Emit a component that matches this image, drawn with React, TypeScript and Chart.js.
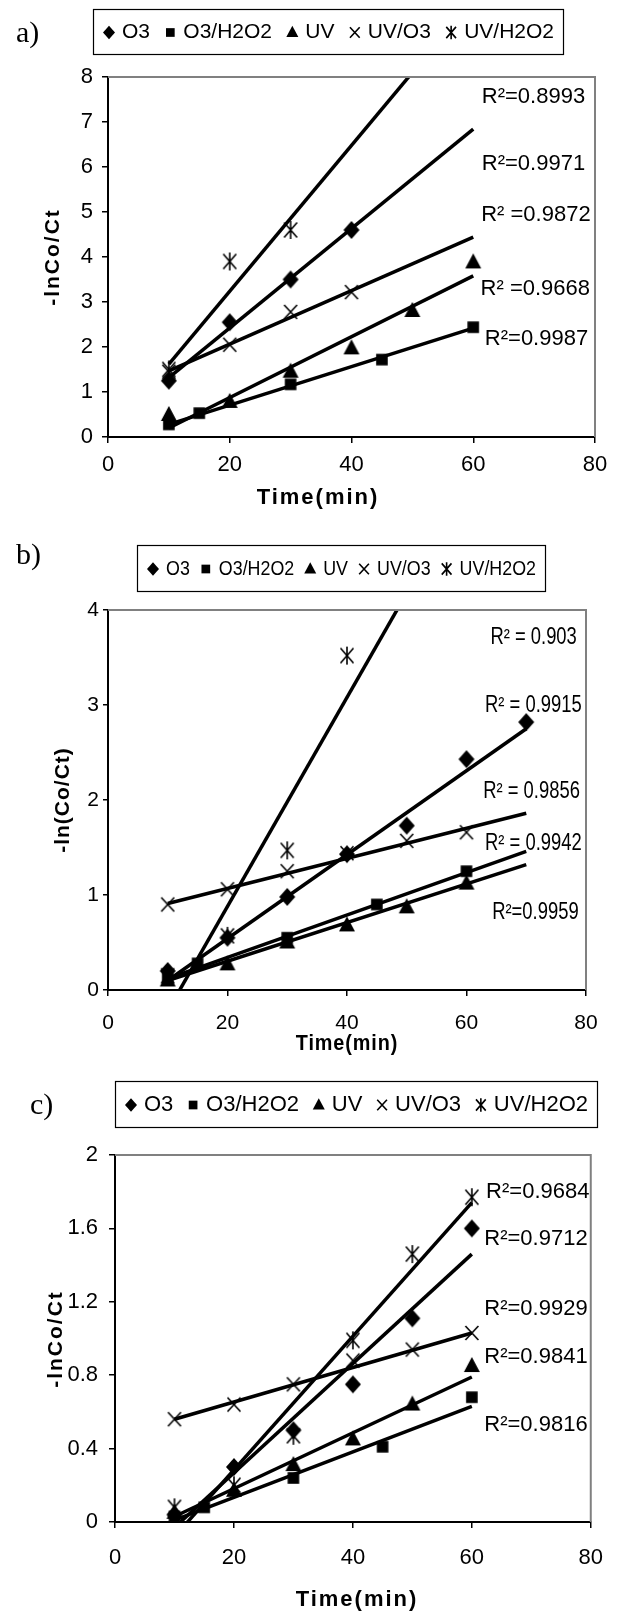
import React, { useEffect, useRef } from 'react';
import { Chart, registerables } from 'chart.js';

Chart.register(...registerables);

// ---------------- shared data ----------------
const seriesNames = ['O3', 'O3/H2O2', 'UV', 'UV/O3', 'UV/H2O2'];
const xTickValues = [0, 20, 40, 60, 80];
const xTitle = 'Time(min)';

// ---------------- panel a ----------------
const aYTicks = [0, 1, 2, 3, 4, 5, 6, 7, 8];
const aTimeO3 = [10, 20, 30, 40];
const aValO3 = [1.25, 2.55, 3.5, 4.6];
const aTimeO3H2O2 = [10, 15, 30, 45, 60];
const aValO3H2O2 = [0.28, 0.53, 1.17, 1.72, 2.44];
const aTimeUV = [10, 20, 30, 40, 50, 60];
const aValUV = [0.49, 0.78, 1.45, 1.97, 2.8, 3.88];
const aTimeUVO3 = [10, 20, 30, 40];
const aValUVO3 = [1.45, 2.05, 2.78, 3.22];
const aTimeUVH2O2 = [10, 20, 30];
const aValUVH2O2 = [1.5, 3.9, 4.6];
const aFitTime = [10, 60];
const aFitStart = [1.32, 0.28, 0.2, 1.47, 1.62];
const aFitEnd = [6.84, 2.42, 3.58, 4.44, 9.72];
const aR2Text = ['R²=0.8993', 'R²=0.9971', 'R² =0.9872', 'R² =0.9668', 'R²=0.9987'];
const aR2Time = [61.4, 61.4, 61.3, 61.2, 61.9];
const aR2Val = [7.55, 6.07, 4.94, 3.29, 2.19];

// ---------------- panel b ----------------
const bYTicks = [0, 1, 2, 3, 4];
const bTimeO3 = [10, 20, 30, 40, 50, 60, 70];
const bValO3 = [0.2, 0.55, 0.98, 1.43, 1.73, 2.43, 2.82];
const bTimeO3H2O2 = [10, 15, 30, 45, 60];
const bValO3H2O2 = [0.12, 0.28, 0.55, 0.9, 1.25];
const bTimeUV = [10, 20, 30, 40, 50, 60];
const bValUV = [0.1, 0.27, 0.5, 0.68, 0.87, 1.12];
const bTimeUVO3 = [10, 20, 30, 40, 50, 60];
const bValUVO3 = [0.9, 1.06, 1.25, 1.44, 1.57, 1.66];
const bTimeUVH2O2 = [10, 20, 30, 40];
const bValUVH2O2 = [0.15, 0.57, 1.47, 3.52];
const bFitTime = [10, 70];
const bFitStart = [0.1, 0.12, 0.1, 0.91, -0.22];
const bFitEnd = [2.75, 1.46, 1.32, 1.86, 6.38];
const bR2Text = ['R² = 0.903', 'R² = 0.9915', 'R² = 0.9856', 'R² = 0.9942', 'R²=0.9959'];
const bR2Time = [64.0, 63.1, 62.8, 63.1, 64.3];
const bR2Val = [3.71, 2.99, 2.09, 1.54, 0.81];

// ---------------- panel c ----------------
const cYTicks = [0, 0.4, 0.8, 1.2, 1.6, 2];
const cTimeO3 = [10, 20, 30, 40, 50, 60];
const cValO3 = [0.04, 0.3, 0.5, 0.75, 1.11, 1.6];
const cTimeO3H2O2 = [10, 15, 30, 45, 60];
const cValO3H2O2 = [0.03, 0.08, 0.24, 0.41, 0.68];
const cTimeUV = [10, 20, 30, 40, 50, 60];
const cValUV = [0.05, 0.17, 0.31, 0.45, 0.64, 0.85];
const cTimeUVO3 = [10, 20, 30, 40, 50, 60];
const cValUVO3 = [0.56, 0.64, 0.75, 0.88, 0.94, 1.03];
const cTimeUVH2O2 = [10, 20, 30, 40, 50, 60];
const cValUVH2O2 = [0.08, 0.2, 0.47, 0.99, 1.46, 1.77];
const cFitTime = [10, 60];
const cFitStart = [-0.03, 0.01, 0.03, 0.56, -0.08];
const cFitEnd = [1.46, 0.63, 0.79, 1.03, 1.74];
const cR2Text = ['R²=0.9684', 'R²=0.9712', 'R²=0.9929', 'R²=0.9841', 'R²=0.9816'];
const cR2Time = [62.4, 62.1, 62.1, 62.1, 62.1];
const cR2Val = [1.8, 1.54, 1.16, 0.9, 0.53];

// ---------------- layout / styles ----------------
const SANS = "'Liberation Sans', Arial, sans-serif";
const SERIF = "'Liberation Serif', 'Times New Roman', serif";

const layoutA = {
  top: 0, height: 520, plotLeft: 108, plotRight: 595, plotTop: 77, plotBottom: 437,
  legendBox: [93, 9, 470, 45], tagPos: [16, 42], tagSize: 30,
  yTitlePos: [53, 257], yTitleSize: 21, yTitleSpacing: 2,
  xTitlePos: [318, 498], xTitleSize: 22, xTitleSpacing: 2, xTitleScale: 1,
  tickSize: 22, r2Size: 22, r2Scale: 1, legendSize: 21, legendScale: 1,
  yTickLen: 6, yTickPad: 9, xTickPad: 9,
};
const layoutB = {
  top: 520, height: 540, plotLeft: 108, plotRight: 586, plotTop: 90, plotBottom: 470,
  legendBox: [137, 25, 408, 46], tagPos: [16, 44], tagSize: 30,
  yTitlePos: [63, 280], yTitleSize: 21, yTitleSpacing: 1,
  xTitlePos: [347, 524], xTitleSize: 22, xTitleSpacing: 1, xTitleScale: 0.9,
  tickSize: 21, r2Size: 23, r2Scale: 0.8, legendSize: 21, legendScale: 0.85,
  yTickLen: 5, yTickPad: 4, xTickPad: 15,
};
const layoutC = {
  top: 1060, height: 554, plotLeft: 115, plotRight: 598, plotTop: 95, plotBottom: 462,
  legendBox: [115, 21, 482, 46], tagPos: [30, 54], tagSize: 30,
  yTitlePos: [56, 279], yTitleSize: 21, yTitleSpacing: 2,
  xTitlePos: [357, 540], xTitleSize: 22, xTitleSpacing: 2, xTitleScale: 1,
  tickSize: 22, r2Size: 22, r2Scale: 1, legendSize: 22, legendScale: 1,
  yTickLen: 6, yTickPad: 11, xTickPad: 17,
};

const panels = [
  {
    tag: 'a)', yTitle: '-lnCo/Ct', yTicks: aYTicks, layout: layoutA,
    times: [aTimeO3, aTimeO3H2O2, aTimeUV, aTimeUVO3, aTimeUVH2O2],
    values: [aValO3, aValO3H2O2, aValUV, aValUVO3, aValUVH2O2],
    fitTime: aFitTime, fitStart: aFitStart, fitEnd: aFitEnd,
    r2Text: aR2Text, r2Time: aR2Time, r2Val: aR2Val,
  },
  {
    tag: 'b)', yTitle: '-ln(Co/Ct)', yTicks: bYTicks, layout: layoutB,
    times: [bTimeO3, bTimeO3H2O2, bTimeUV, bTimeUVO3, bTimeUVH2O2],
    values: [bValO3, bValO3H2O2, bValUV, bValUVO3, bValUVH2O2],
    fitTime: bFitTime, fitStart: bFitStart, fitEnd: bFitEnd,
    r2Text: bR2Text, r2Time: bR2Time, r2Val: bR2Val,
  },
  {
    tag: 'c)', yTitle: '-lnCo/Ct', yTicks: cYTicks, layout: layoutC,
    times: [cTimeO3, cTimeO3H2O2, cTimeUV, cTimeUVO3, cTimeUVH2O2],
    values: [cValO3, cValO3H2O2, cValUV, cValUVO3, cValUVH2O2],
    fitTime: cFitTime, fitStart: cFitStart, fitEnd: cFitEnd,
    r2Text: cR2Text, r2Time: cR2Time, r2Val: cR2Val,
  },
];

// ---------------- marker drawing ----------------
function drawMarker(ctx: CanvasRenderingContext2D, kind: number, x: number, y: number, k: number) {
  ctx.save();
  ctx.fillStyle = '#000';
  ctx.strokeStyle = '#000';
  ctx.lineWidth = 1.6;
  ctx.beginPath();
  if (kind === 0) {
    ctx.moveTo(x, y - 9 * k);
    ctx.lineTo(x + 8 * k, y);
    ctx.lineTo(x, y + 9 * k);
    ctx.lineTo(x - 8 * k, y);
    ctx.closePath();
    ctx.fill();
  } else if (kind === 1) {
    const h = 5.8 * k;
    ctx.rect(x - h, y - h, 2 * h, 2 * h);
    ctx.fill();
  } else if (kind === 2) {
    ctx.moveTo(x, y - 9 * k);
    ctx.lineTo(x + 8 * k, y + 6 * k);
    ctx.lineTo(x - 8 * k, y + 6 * k);
    ctx.closePath();
    ctx.fill();
  } else if (kind === 3) {
    const w = 6.5 * k;
    const h = 7 * k;
    ctx.moveTo(x - w, y - h);
    ctx.lineTo(x + w, y + h);
    ctx.moveTo(x + w, y - h);
    ctx.lineTo(x - w, y + h);
    ctx.stroke();
  } else {
    const w = 6.5 * k;
    const h = 7.5 * k;
    ctx.moveTo(x - w, y - h);
    ctx.lineTo(x + w, y + h);
    ctx.moveTo(x + w, y - h);
    ctx.lineTo(x - w, y + h);
    ctx.moveTo(x, y - 9 * k);
    ctx.lineTo(x, y + 9 * k);
    ctx.stroke();
  }
  ctx.restore();
}

function markerCanvas(kind: number) {
  const c = document.createElement('canvas');
  c.width = 24;
  c.height = 24;
  const ctx = c.getContext('2d') as CanvasRenderingContext2D;
  drawMarker(ctx, kind, 12, 12, 1);
  return c;
}

function scaledText(ctx: CanvasRenderingContext2D, text: string, x: number, y: number, hs: number) {
  if (hs === 1) {
    ctx.fillText(text, x, y);
    return;
  }
  ctx.save();
  ctx.translate(x, y);
  ctx.scale(hs, 1);
  ctx.fillText(text, 0, 0);
  ctx.restore();
}

function PanelChart({ panel }: { panel: any }) {
  const ref = useRef<HTMLCanvasElement | null>(null);
  const L = panel.layout;

  useEffect(() => {
    const canvas = ref.current;
    if (!canvas) return;
    const markers = [0, 1, 2, 3, 4].map((k) => markerCanvas(k));
    const datasets: any[] = [];
    panel.fitStart.forEach((s: number, i: number) => {
      datasets.push({
        label: seriesNames[i] + ' trend',
        data: [
          { x: panel.fitTime[0], y: s },
          { x: panel.fitTime[1], y: panel.fitEnd[i] },
        ],
        showLine: true,
        pointRadius: 0,
        borderColor: '#000',
        backgroundColor: '#000',
        borderWidth: 3.5,
        order: 2,
      });
    });
    panel.times.forEach((t: number[], i: number) => {
      datasets.push({
        label: seriesNames[i],
        data: t.map((x, j) => ({ x, y: panel.values[i][j] })),
        showLine: false,
        pointStyle: markers[i],
        pointRadius: 7,
        borderColor: '#000',
        backgroundColor: '#000',
        order: 1,
      });
    });

    const overlay = {
      id: 'overlay',
      afterDraw(chart: any) {
        const ctx: CanvasRenderingContext2D = chart.ctx;
        const area = chart.chartArea;
        const xs = chart.scales.x;
        const ys = chart.scales.y;
        ctx.save();
        // grey frame (top & right)
        ctx.strokeStyle = '#808080';
        ctx.lineWidth = 2;
        ctx.beginPath();
        ctx.moveTo(area.left, area.top);
        ctx.lineTo(area.right, area.top);
        ctx.lineTo(area.right, area.bottom);
        ctx.stroke();
        // R² labels
        ctx.fillStyle = '#000';
        ctx.textAlign = 'left';
        ctx.textBaseline = 'middle';
        ctx.font = `${L.r2Size}px ${SANS}`;
        panel.r2Text.forEach((t: string, i: number) => {
          scaledText(ctx, t, xs.getPixelForValue(panel.r2Time[i]), ys.getPixelForValue(panel.r2Val[i]), L.r2Scale);
        });
        // legend box
        const [bx, by, bw, bh] = L.legendBox;
        ctx.strokeStyle = '#000';
        ctx.lineWidth = 1.2;
        ctx.strokeRect(bx + 0.5, by + 0.5, bw, bh);
        ctx.font = `${L.legendSize}px ${SANS}`;
        const widths = seriesNames.map((n) => ctx.measureText(n).width);
        const sumW = widths.reduce((s, w) => s + w, 0);
        const markW = 14;
        const sp = 6;
        const pad = 9;
        const minGap = 8;
        const avail = bw - 2 * pad;
        const fixed = seriesNames.length * (markW + sp);
        const hs = Math.min(L.legendScale, (avail - fixed - minGap * 4) / sumW);
        const gap = (avail - fixed - sumW * hs) / (seriesNames.length - 1);
        let x = bx + pad;
        const cy = by + bh / 2 + 1;
        seriesNames.forEach((n, i) => {
          drawMarker(ctx, i, x + markW / 2, cy, 0.75);
          x += markW + sp;
          scaledText(ctx, n, x, cy, hs);
          x += widths[i] * hs + gap;
        });
        // panel tag
        ctx.font = `${L.tagSize}px ${SERIF}`;
        ctx.textBaseline = 'alphabetic';
        ctx.textAlign = 'left';
        ctx.fillText(panel.tag, L.tagPos[0], L.tagPos[1]);
        // y title
        ctx.save();
        ctx.translate(L.yTitlePos[0], L.yTitlePos[1]);
        ctx.rotate(-Math.PI / 2);
        ctx.font = `bold ${L.yTitleSize}px ${SANS}`;
        (ctx as any).letterSpacing = `${L.yTitleSpacing}px`;
        ctx.textAlign = 'center';
        ctx.textBaseline = 'middle';
        ctx.fillText(panel.yTitle, 0, 0);
        ctx.restore();
        // x title
        ctx.font = `bold ${L.xTitleSize}px ${SANS}`;
        (ctx as any).letterSpacing = `${L.xTitleSpacing}px`;
        ctx.textAlign = 'center';
        ctx.textBaseline = 'middle';
        scaledText(ctx, xTitle, L.xTitlePos[0], L.xTitlePos[1], L.xTitleScale);
        ctx.restore();
      },
    };

    const xAxisH = 70;
    const chart = new Chart(canvas, {
      type: 'scatter',
      data: { datasets },
      options: {
        responsive: false,
        maintainAspectRatio: false,
        animation: false,
        events: [],
        layout: {
          padding: {
            left: 0,
            top: L.plotTop,
            right: 620 - L.plotRight,
            bottom: Math.max(0, L.height - L.plotBottom - xAxisH),
          },
        },
        plugins: { legend: { display: false }, tooltip: { enabled: false } },
        scales: {
          x: {
            type: 'linear',
            position: 'bottom',
            min: 0,
            max: 80,
            afterBuildTicks: (s: any) => {
              s.ticks = xTickValues.map((v) => ({ value: v }));
            },
            afterFit: (s: any) => {
              s.height = xAxisH;
            },
            grid: { display: true, drawOnChartArea: false, drawTicks: true, tickLength: 6, color: '#000', lineWidth: 1.5 },
            border: { display: true, color: '#000', width: 2 },
            ticks: {
              color: '#000',
              font: { family: SANS, size: L.tickSize },
              padding: L.xTickPad,
              maxRotation: 0,
              minRotation: 0,
              autoSkip: false,
              callback: (v: any) => String(v),
            },
          },
          y: {
            type: 'linear',
            position: 'left',
            min: 0,
            max: panel.yTicks[panel.yTicks.length - 1],
            afterBuildTicks: (s: any) => {
              s.ticks = panel.yTicks.map((v: number) => ({ value: v }));
            },
            afterFit: (s: any) => {
              s.width = L.plotLeft;
            },
            grid: { display: true, drawOnChartArea: false, drawTicks: true, tickLength: L.yTickLen, color: '#000', lineWidth: 1.5 },
            border: { display: true, color: '#000', width: 2 },
            ticks: {
              color: '#000',
              font: { family: SANS, size: L.tickSize },
              padding: L.yTickPad,
              autoSkip: false,
              callback: (v: any) => String(v),
            },
          },
        },
      } as any,
      plugins: [overlay],
    });
    return () => chart.destroy();
  }, []);

  return (
    <canvas
      ref={ref}
      width={620}
      height={L.height}
      style={{ position: 'absolute', left: 0, top: L.top, display: 'block' }}
    />
  );
}

export default function App() {
  return (
    <div style={{ position: 'absolute', left: 0, top: 0, width: 620, height: 1614, background: '#fff' }}>
      {panels.map((p) => (
        <PanelChart key={p.tag} panel={p} />
      ))}
    </div>
  );
}
